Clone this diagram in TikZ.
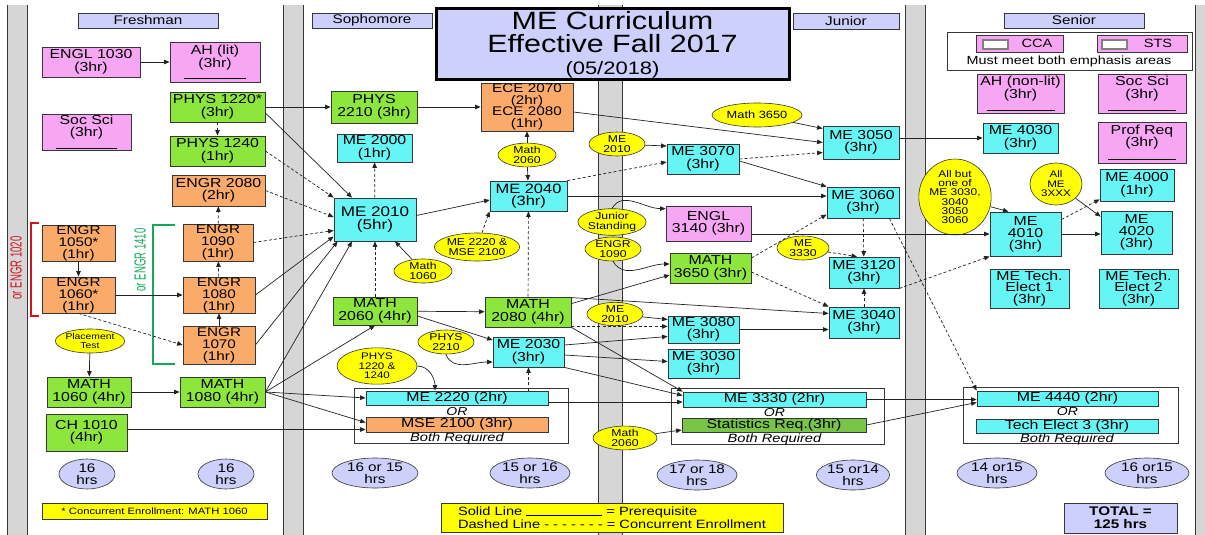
\documentclass[tikz,border=0pt]{standalone}
\usepackage{fontspec}
\setmainfont{Liberation Sans}[FakeStretch=1.22]
\newfontfamily\narrowfont{Liberation Sans}[FakeStretch=0.6]
\usetikzlibrary{shapes.geometric,arrows.meta,calc}

\newcommand\fsz[2]{\fontsize{#1}{#2}\selectfont}

\definecolor{pinkc}{RGB}{246,166,242}
\definecolor{greenc}{RGB}{140,230,60}
\definecolor{orangec}{RGB}{250,170,105}
\definecolor{cyanc}{RGB}{102,245,245}
\definecolor{yelc}{RGB}{255,255,0}
\definecolor{lavc}{RGB}{204,208,250}
\definecolor{statc}{RGB}{120,196,70}
\definecolor{bandc}{RGB}{214,214,214}
\definecolor{edgec}{RGB}{55,55,55}
\definecolor{linec}{RGB}{35,35,35}
\definecolor{redc}{RGB}{210,20,30}
\definecolor{grnbr}{RGB}{20,170,90}

\tikzset{
  base/.style={draw=edgec, line width=0.8pt, inner sep=0pt, align=center, font=\fsz{13}{12.5}},
  pk/.style={base, fill=pinkc},
  gr/.style={base, fill=greenc},
  orn/.style={base, fill=orangec},
  cy/.style={base, fill=cyanc},
  hdr/.style={base, fill=lavc, font=\fsz{12.5}{13}},
  oval/.style={ellipse, draw=edgec, line width=0.6pt, fill=yelc, inner sep=0pt, align=center, font=\fsz{10}{9.5}},
  hours/.style={ellipse, draw=edgec, line width=0.6pt, fill=lavc, inner sep=0pt, align=center, font=\fsz{12.5}{12}},
  grp/.style={draw=edgec, line width=0.8pt, inner sep=0pt, fill=white},
  orlabel/.style={font=\fsz{11.5}{12}\itshape, inner sep=0pt},
  bothlabel/.style={font=\fsz{12}{12}\itshape, inner sep=0pt},
  pre/.style={draw=linec, line width=0.7pt, -{Triangle[length=5.5pt,width=4.5pt]}},
  con/.style={pre, dash pattern=on 3pt off 2.2pt},
  sq/.style={draw=gray, line width=1.6pt, fill=white, minimum width=25, minimum height=9, inner sep=0pt},
  sidenote/.style={rotate=90, font=\narrowfont\fsz{16}{16}, inner sep=0pt},
}

\begin{document}
\begin{tikzpicture}[x=1pt,y=-1pt]
\useasboundingbox (0,0) rectangle (1205,535);
\fill[white] (0,0) rectangle (1205,535);

% year bands
\foreach \a/\b in {7/27, 283/303, 598/622, 905/925, 1195/1205}{
  \fill[bandc] (\a,5) rectangle (\b,535);
  \draw[edgec, line width=0.8pt] (\a,5) -- (\a,535);
  \draw[edgec, line width=0.8pt] (\b,5) -- (\b,535);
}

% ---------------- headers and title
\node[hdr, minimum width=140, minimum height=15] (hfr) at (148,20.5) {Freshman};
\node[hdr, minimum width=120, minimum height=15] (hso) at (372,20.5) {Sophomore};
\node[hdr, minimum width=106, minimum height=16] (hju) at (846,21) {Junior};
\node[hdr, minimum width=140, minimum height=15] (hse) at (1074,20.5) {Senior};
\node[base, fill=lavc, line width=3pt, draw=black, minimum width=353, minimum height=71,
      font=\fsz{25}{23}] (title) at (612.5,44.5)
      {ME Curriculum\\Effective Fall 2017\\[-1pt]{\fsz{18}{20}(05/2018)}};

% ---------------- Freshman
\node[pk, minimum width=98, minimum height=30] (engl1030) at (91,62) {ENGL 1030\\(3hr)};
\node[pk, minimum width=90, minimum height=40] (ahlit) at (215,62) {AH (lit)\\(3hr)\\[-1.5pt]\rule{62pt}{0.8pt}};
\node[pk, minimum width=89, minimum height=36] (socsci) at (86.5,132) {Soc Sci\\(3hr)\\[-0.5pt]\rule{62pt}{0.8pt}};
\node[gr, minimum width=95, minimum height=30] (phys1220) at (217.5,107) {PHYS 1220*\\(3hr)};
\node[gr, minimum width=95, minimum height=30] (phys1240) at (217.5,151) {PHYS 1240\\(1hr)};
\node[orn, minimum width=93, minimum height=31] (engr2080) at (218.5,190.5) {ENGR 2080\\(2hr)};
\node[orn, minimum width=73, minimum height=36, font=\fsz{12.5}{12}] (engr1050) at (78.5,243) {ENGR\\1050*\\(1hr)};
\node[orn, minimum width=73, minimum height=36, font=\fsz{12.5}{12}] (engr1060) at (78.5,295) {ENGR\\1060*\\(1hr)};
\node[orn, minimum width=70, minimum height=37, font=\fsz{12.5}{12}] (engr1090) at (218,242.5) {ENGR\\1090\\(1hr)};
\node[orn, minimum width=72, minimum height=36, font=\fsz{12.5}{12}] (engr1080) at (219,295) {ENGR\\1080\\(1hr)};
\node[orn, minimum width=72, minimum height=38, font=\fsz{12.5}{12}] (engr1070) at (219,345) {ENGR\\1070\\(1hr)};
\draw[redc, line width=2pt] (39,223) -- (31,223) -- (31,316) -- (39,316);
\node[sidenote, text=redc] (alt1020) at (16,268) {or ENGR 1020};
\draw[grnbr, line width=2pt] (175,225) -- (153,225) -- (153,364) -- (175,364);
\node[sidenote, text=grnbr] (alt1410) at (140,260) {or ENGR 1410};
\node[oval, minimum width=68, minimum height=24, font=\fsz{8.5}{8.5}] (placement) at (90,341) {Placement\\Test};
\node[gr, minimum width=84, minimum height=30] (math1060) at (89,392) {MATH\\1060 (4hr)};
\node[gr, minimum width=85, minimum height=30] (math1080) at (222.5,392) {MATH\\1080 (4hr)};
\node[gr, minimum width=81, minimum height=37] (ch1010) at (86.5,432.5) {CH 1010\\(4hr)};
\node[hours, minimum width=56, minimum height=30] (hrs1) at (87,474) {16\\hrs};
\node[hours, minimum width=56, minimum height=30] (hrs2) at (226,474) {16\\hrs};
\node[base, fill=yelc, minimum width=225, minimum height=16, font=\fsz{9.2}{10}] (note) at (154.5,511) {* Concurrent Enrollment: MATH 1060};

% ---------------- Sophomore
\node[gr, minimum width=86, minimum height=32] (phys2210) at (374,107) {PHYS\\2210 (3hr)};
\node[cy, minimum width=75, minimum height=28] (me2000) at (374.5,148) {ME 2000\\(1hr)};
\node[orn, minimum width=92, minimum height=48, font=\fsz{12.5}{11.6}] (ece) at (527,107) {ECE 2070\\(2hr)\\ECE 2080\\(1hr)};
\node[oval, minimum width=58, minimum height=22] (m2060e) at (527,155) {Math\\2060};
\node[cy, minimum width=82, minimum height=43, font=\fsz{14}{12.8}] (me2010) at (375,219.5) {ME 2010\\(5hr)};
\node[cy, minimum width=77, minimum height=30, font=\fsz{13.5}{12.5}] (me2040) at (528.5,196) {ME 2040\\(3hr)};
\node[oval, minimum width=84, minimum height=28] (e22202100) at (477,247) {ME 2220 \&\\MSE 2100};
\node[oval, minimum width=58, minimum height=24] (m1060e) at (423,271) {Math\\1060};
\node[gr, minimum width=84, minimum height=28] (math2060) at (375,311) {MATH\\2060 (4hr)};
\node[gr, minimum width=86, minimum height=30] (math2080) at (528,312) {MATH\\2080 (4hr)};
\node[oval, minimum width=56, minimum height=24] (p2210e) at (446,342) {PHYS\\2210};
\node[cy, minimum width=71, minimum height=30] (me2030) at (528.5,352) {ME 2030\\(3hr)};
\node[oval, minimum width=80, minimum height=32, font=\fsz{9.5}{9.5}] (p1220e) at (377,366) {PHYS\\1220 \&\\1240};
\node[grp, minimum width=214, minimum height=55] (grpso) at (461,415.5) {};
\node[cy, minimum width=182, minimum height=14] (me2220) at (457,398) {ME 2220 (2hr)};
\node[orlabel] (orso) at (457,412) {OR};
\node[orn, minimum width=182, minimum height=15] (mse2100) at (457,424.5) {MSE 2100 (3hr)};
\node[bothlabel] (bothso) at (457,438) {Both Required};
\node[hours, minimum width=86, minimum height=30] (hrs3) at (375,473) {16 or 15\\hrs};
\node[hours, minimum width=80, minimum height=30] (hrs4) at (530,473) {15 or 16\\hrs};
\node[base, fill=yelc, minimum width=342, minimum height=29, align=left, font=\fsz{12}{12.5}] (legend) at (612,517.5)
  {Solid Line \rule{76pt}{0.6pt} = Prerequisite\\Dashed Line - - - - - - - = Concurrent Enrollment};

% ---------------- Junior
\node[oval, minimum width=90, minimum height=24, font=\fsz{10.5}{10}] (m3650e) at (757,115) {Math 3650};
\node[oval, minimum width=56, minimum height=24] (me2010e1) at (617,144) {ME\\2010};
\node[cy, minimum width=72, minimum height=30] (me3070) at (703,159) {ME 3070\\(3hr)};
\node[cy, minimum width=76, minimum height=33] (me3050) at (861,142.5) {ME 3050\\(3hr)};
\node[cy, minimum width=72, minimum height=31] (me3060) at (863,202.5) {ME 3060\\(3hr)};
\node[pk, minimum width=85, minimum height=35] (engl3140) at (708.5,223.5) {ENGL\\3140 (3hr)};
\node[oval, minimum width=60, minimum height=26] (jse) at (612,222) {Junior\\Standing};
\node[oval, minimum width=56, minimum height=24] (e1090e) at (613,249) {ENGR\\1090};
\node[gr, minimum width=81, minimum height=30] (math3650) at (710.5,268) {MATH\\3650 (3hr)};
\node[oval, minimum width=52, minimum height=24] (m3330e) at (803,248) {ME\\3330};
\node[cy, minimum width=70, minimum height=31] (me3120) at (864,272.5) {ME 3120\\(3hr)};
\node[cy, minimum width=70, minimum height=31] (me3040) at (864,322.5) {ME 3040\\(3hr)};
\node[oval, minimum width=56, minimum height=22] (me2010e2) at (615,314) {ME\\2010};
\node[cy, minimum width=71, minimum height=27] (me3080) at (703.5,329.5) {ME 3080\\(3hr)};
\node[cy, minimum width=71, minimum height=29] (me3030) at (703.5,363.5) {ME 3030\\(3hr)};
\node[grp, minimum width=213, minimum height=56] (grpju) at (777.5,416) {};
\node[cy, minimum width=183, minimum height=15] (me3330) at (774.5,399.5) {ME 3330 (2hr)};
\node[orlabel] (orju) at (774.5,413) {OR};
\node[base, fill=statc, minimum width=184, minimum height=14] (stats) at (774,425) {Statistics Req.(3hr)};
\node[bothlabel] (bothju) at (774.5,439) {Both Required};
\node[oval, minimum width=64, minimum height=22] (m2060e2) at (625,438) {Math\\2060};
\node[hours, minimum width=80, minimum height=30] (hrs5) at (697,475) {17 or 18\\hrs};
\node[hours, minimum width=72, minimum height=30] (hrs6) at (853,475) {15 or14\\hrs};

% ---------------- Senior
\node[grp, minimum width=245, minimum height=38] (emph) at (1069.5,51) {};
\node[pk, minimum width=87, minimum height=17] (cca) at (1019.5,43.5) {};
\node[sq] (ccasq) at (995.5,44.5) {};
\node[font=\fsz{12}{12}, inner sep=0pt] (ccatxt) at (1037,43.5) {CCA};
\node[pk, minimum width=90, minimum height=17] (sts) at (1142,43.5) {};
\node[sq] (stssq) at (1114.5,44.5) {};
\node[font=\fsz{12}{12}, inner sep=0pt] (ststxt) at (1158,43.5) {STS};
\node[font=\fsz{11.8}{12}, inner sep=0pt] (emphtxt) at (1069,61) {Must meet both emphasis areas};
\node[pk, minimum width=87, minimum height=39] (ahnl) at (1020.5,93.5) {AH (non-lit)\\(3hr)\\[-0.5pt]\rule{68pt}{0.8pt}};
\node[pk, minimum width=88, minimum height=39] (socsci2) at (1142,93.5) {Soc Sci\\(3hr)\\[-0.5pt]\rule{68pt}{0.8pt}};
\node[cy, minimum width=75, minimum height=30] (me4030) at (1020.5,138) {ME 4030\\(3hr)};
\node[pk, minimum width=88, minimum height=41] (profreq) at (1142,142.5) {Prof Req\\(3hr)\\[0.5pt]\rule{68pt}{0.8pt}};
\node[oval, minimum width=66, minimum height=70, font=\fsz{9.8}{9.3}] (allbut) at (955,197) {All but\\one of\\ME 3030,\\3040\\3050\\3060};
\node[oval, minimum width=52, minimum height=42, font=\fsz{9.5}{9.5}] (all3) at (1056,184) {All\\ME\\3XXX};
\node[cy, minimum width=74, minimum height=32] (me4000) at (1137,185) {ME 4000\\(1hr)};
\node[cy, minimum width=71, minimum height=44, font=\fsz{13}{12}] (me4010) at (1025.5,234) {ME\\4010\\(3hr)};
\node[cy, minimum width=71, minimum height=43, font=\fsz{13}{12}] (me4020) at (1136.5,232.5) {ME\\4020\\(3hr)};
\node[cy, minimum width=79, minimum height=39, font=\fsz{13}{11.7}] (te1) at (1029.5,288.5) {ME Tech.\\Elect 1\\(3hr)};
\node[cy, minimum width=79, minimum height=39, font=\fsz{13}{11.7}] (te2) at (1138.5,288.5) {ME Tech.\\Elect 2\\(3hr)};
\node[grp, minimum width=215, minimum height=56] (grpse) at (1070.5,415) {};
\node[cy, minimum width=181, minimum height=15] (me4440) at (1067.5,398.5) {ME 4440 (2hr)};
\node[orlabel] (orse) at (1067.5,412) {OR};
\node[cy, minimum width=182, minimum height=14] (te3) at (1067,426) {Tech Elect 3 (3hr)};
\node[bothlabel] (bothse) at (1067,439) {Both Required};
\node[hours, minimum width=80, minimum height=30] (hrs7) at (997,473) {14 or15\\hrs};
\node[hours, minimum width=84, minimum height=30] (hrs8) at (1147,473) {16 or15\\hrs};
\node[base, fill=lavc, minimum width=113, minimum height=30, font=\bfseries\fsz{12.5}{13}] (total) at (1120.5,518) {TOTAL =\\125 hrs};

% ---------------- connectors: Freshman
\draw[pre] (engl1030) -- (ahlit);
\draw[con] (phys1220) -- (phys1240);
\draw[pre] (phys1220) -- (phys2210);
\draw[pre] ([yshift=-6pt]phys1220.east) -- ([xshift=-23pt]me2010.north);
\draw[con] (phys1240.east) -- (me2010.north west);
\draw[con] (engr2080.east) -- ([yshift=2.5pt]me2010.west);
\draw[con] (engr1090.east) -- ([yshift=-11pt]me2010.west);
\draw[pre] (engr1080.east) -- ([yshift=-17pt]me2010.west);
\draw[pre] (engr1070.east) -- ([xshift=4pt]me2010.south west);
\draw[pre] (math1080.east) -- ([xshift=-23pt]me2010.south);
\draw[pre] (math1080.east) -- (math2060.south);
\draw[pre] (math1080.east) -- (me2220.west);
\draw[pre] (math1080.east) -- ([yshift=2pt]mse2100.west);
\draw[pre] ([yshift=3pt]ch1010.east) -- ([yshift=3pt]ch1010.east -| mse2100.west);
\draw[con] (engr1090) -- (engr2080);
\draw[con] (engr1080) -- (engr1090);
\draw[pre] (engr1070) -- (engr1080);
\draw[pre] (engr1050) -- (engr1060);
\draw[pre] (engr1060) -- (engr1080);
\draw[con] (engr1060.south) -- (engr1070.west);
\draw[pre] (placement) -- (math1060);
\draw[pre] (math1060) -- (math1080);

% ---------------- connectors: Sophomore
\draw[pre] (phys2210) -- (ece);
\draw[con] (me2010) -- (me2000);
\draw[con] (math2060) -- (me2010);
\draw[pre] (m1060e) -- ([xshift=20pt]me2010.south);
\draw[pre] ([yshift=4pt]me2010.east) -- ([yshift=-4pt]me2040.west);
\draw[con] (e22202100) -- (me2040.south west);
\draw[pre] (m2060e) -- (ece);
\draw[pre] (m2060e) -- (me2040);
\draw[con] (math2080) -- (me2040);
\draw[pre] (math2060) -- (math2080);
\draw[pre] ([yshift=-5pt]math2060.east) -- ([yshift=12pt]me2030.west);
\draw[pre] (p2210e.south) to[out=-70,in=180] ([yshift=-10pt]me2030.west);
\draw[con] (me2030.south |- me2220.north) -- (me2030.south);
\draw[pre] (p1220e.east) to[out=0,in=90] ([xshift=-22pt]me2220.north);
\draw[pre] ([yshift=-5pt]ece.east) -- (me3050.west);

% ---------------- connectors: Junior
\draw[con] (me2040.north east) -- ([yshift=-3pt]me3070.west);
\draw[pre] (me2010e1) -- ([yshift=13pt]me3070.west);
\draw[pre] (me2040.east) -- (me2040.east -| me3060.west);
\draw[con] (me3070.east) -- ([yshift=-10pt]me3050.west);
\draw[pre] ([yshift=-2pt]me3070.east) -- (me3060.north west);
\draw[pre] (m3650e) -- ([yshift=14pt]me3050.west);
\draw[pre] (jse.north) to[out=60,in=180] ([yshift=-3pt]engl3140.north west);
\draw[pre] (e1090e.south) to[out=-60,in=180] ([yshift=4pt]math3650.west);
\draw[pre] ([yshift=-7pt]math2080.north east) -- ([yshift=-7pt]math3650.west);
\draw[pre] ([yshift=-1pt]math2080.north east) -- ([yshift=9pt]me3040.west);
\draw[con] ([yshift=1pt]math2080.south east) -- ([yshift=1pt]math2080.south east -| me3080.west);
\draw[pre] (me2010e2) -- ([yshift=10pt]me3080.west);
\draw[pre] ([yshift=7pt]me2030.east) -- ([yshift=-7pt]me3080.west);
\draw[pre] ([yshift=-3pt]me2030.east) -- ([yshift=2pt]me3030.west);
\draw[pre] (math2080.south east) -- (me3330.north west);
\draw[pre] (me2030.south east) -- ([yshift=4pt]me3330.west);
\draw[pre] ([yshift=-4pt]me2220.east) -- ([yshift=-4pt]me2220.east -| me3330.west);
\draw[pre] (m2060e2) -- ([yshift=-5pt]stats.west);
\draw[con] ([yshift=10pt]math3650.east) -- ([yshift=-12pt]me3060.west);
\draw[con] ([yshift=-4pt]math3650.east) -- (me3040.north west);
\draw[con] (me3060) -- (me3120);
\draw[con] (me3040) -- (me3120);
\draw[con] (m3330e) -- ([xshift=-7pt]me3120.north);
\draw[pre] (me3080.east) -- (me3080.east -| me3040.west);

% ---------------- connectors: Senior
\draw[pre] (me4010.west -| engl3140.east) -- (me4010.west);
\draw[con] (me3120.south east) -- (me4010.south west);
\draw[con] ([xshift=-10pt]me3060.south east) -- (me4440.north west);
\draw[pre] (me4030.west -| me3050.east) -- (me4030.west);
\draw[pre] (allbut) -- ([xshift=-17pt]me4010.north);
\draw[pre] (all3) -- ([yshift=-6pt]me4020.north west);
\draw[con] ([yshift=-8pt]me4010.north east) -- ([yshift=2pt]me4000.south west);
\draw[pre] (me4010.east) -- (me4010.east -| me4020.west);
\draw[pre] (me3330.east) -- (me3330.east -| me4440.west);
\draw[pre] (stats.east) -- ([yshift=-4pt]me4440.west);
\end{tikzpicture}
\end{document}
